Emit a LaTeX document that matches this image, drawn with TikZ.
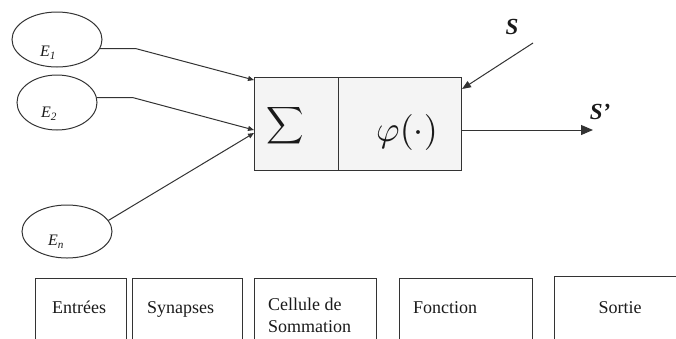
\documentclass[tikz,border=0pt]{standalone}
\usepackage{fontspec}
\setmainfont{Liberation Serif}
\usetikzlibrary{shapes.geometric,arrows.meta}
\definecolor{linec}{HTML}{333333}
\definecolor{boxfill}{HTML}{F4F4F4}
\definecolor{txt}{HTML}{1A1A1A}
\begin{document}
\begin{tikzpicture}[x=1pt,y=-1pt,
  line/.style={draw=linec, line width=1pt},
  inell/.style={ellipse, draw=linec, line width=1pt, inner sep=0pt},
  elab/.style={inner sep=0pt, text=txt, font=\fontsize{16}{16}\selectfont\itshape},
  cellbox/.style={rectangle, draw=linec, line width=1.1pt, fill=boxfill, inner sep=0pt, minimum height=93pt, anchor=north west},
  botbox/.style={rectangle, draw=linec, line width=1.1pt, inner sep=0pt, minimum height=75pt, anchor=north west},
  botlab/.style={inner sep=0pt, text=txt, font=\fontsize{18}{22}\selectfont},
  sig/.style={inner sep=0pt, text=txt, font=\bfseries\itshape\fontsize{23}{23}\selectfont},
  smallarr/.style={line, -{Triangle[length=6pt,width=5pt]}},
  bigarr/.style={line, -{Triangle[length=12pt,width=10pt]}},
  midarr/.style={line, -{Triangle[length=9pt,width=7pt]}}
]
\useasboundingbox (0,0) rectangle (676,338);
\clip (0,0) rectangle (676,338);

% input ellipses
\node[inell, minimum width=90pt, minimum height=55pt] (e1) at (57,39.5) {};
\node[inell, minimum width=80pt, minimum height=55pt] (e2) at (57,102.5) {};
\node[inell, minimum width=90pt, minimum height=53pt] (en) at (67,231.5) {};
\node[elab] (le1) at (48,52.5) {E\textsubscript{1}};
\node[elab] (le2) at (49,113.5) {E\textsubscript{2}};
\node[elab] (len) at (56,241.5) {E\textsubscript{n}};

% neuron cell
\node[cellbox, minimum width=84pt] (sig) at (254,77) {};
\node[cellbox, minimum width=123pt] (phi) at (338,77) {};
\node[inner sep=0pt, text=txt] (sigt) at (285,126) {\scalebox{2.6}{$\displaystyle\sum$}};
\node[inner sep=0pt, text=txt] (phit) at (407,132) {\scalebox{3.6}{$\varphi(\cdot)$}};

% input connectors
\coordinate (i1) at (254,80);
\coordinate (i2) at (254,130);
\coordinate (i3) at (254,133);
\draw[smallarr] (e1.-12) -- ++(36,0) -- (i1);
\draw[smallarr] (e2.7) -- ++(36,0) -- (i2);
\draw[smallarr] (en.15) -- (i3);

% bias S and output S'
\node[sig] (s) at (512,27) {S};
\coordinate (sfrom) at (533,43);
\coordinate (sto) at (462,89);
\draw[midarr] (sfrom) -- (sto);
\coordinate (out) at (593,130);
\draw[bigarr] (out -| phi.east) -- (out);
\node[sig] (sp) at (600,112) {S’};

% bottom legend boxes
\node[botbox, minimum width=91pt] (b1) at (35,278) {};
\node[botbox, minimum width=110pt] (b2) at (132,278) {};
\node[botbox, minimum width=122pt] (b3) at (254,278) {};
\node[botbox, minimum width=133pt] (b4) at (399,278) {};
\node[botbox, minimum width=140pt] (b5) at (554,276) {};
\node[botlab, anchor=base west] (t1) at (52,313) {Entrées};
\node[botlab, anchor=base west] (t2) at (147,313) {Synapses};
\node[botlab, anchor=north west, align=left] (t3) at (268,298) {Cellule de\\Sommation};
\node[botlab, anchor=base west] (t4) at (413,313) {Fonction};
\node[botlab, anchor=base] (t5) at (620,313) {Sortie};
\end{tikzpicture}
\end{document}
